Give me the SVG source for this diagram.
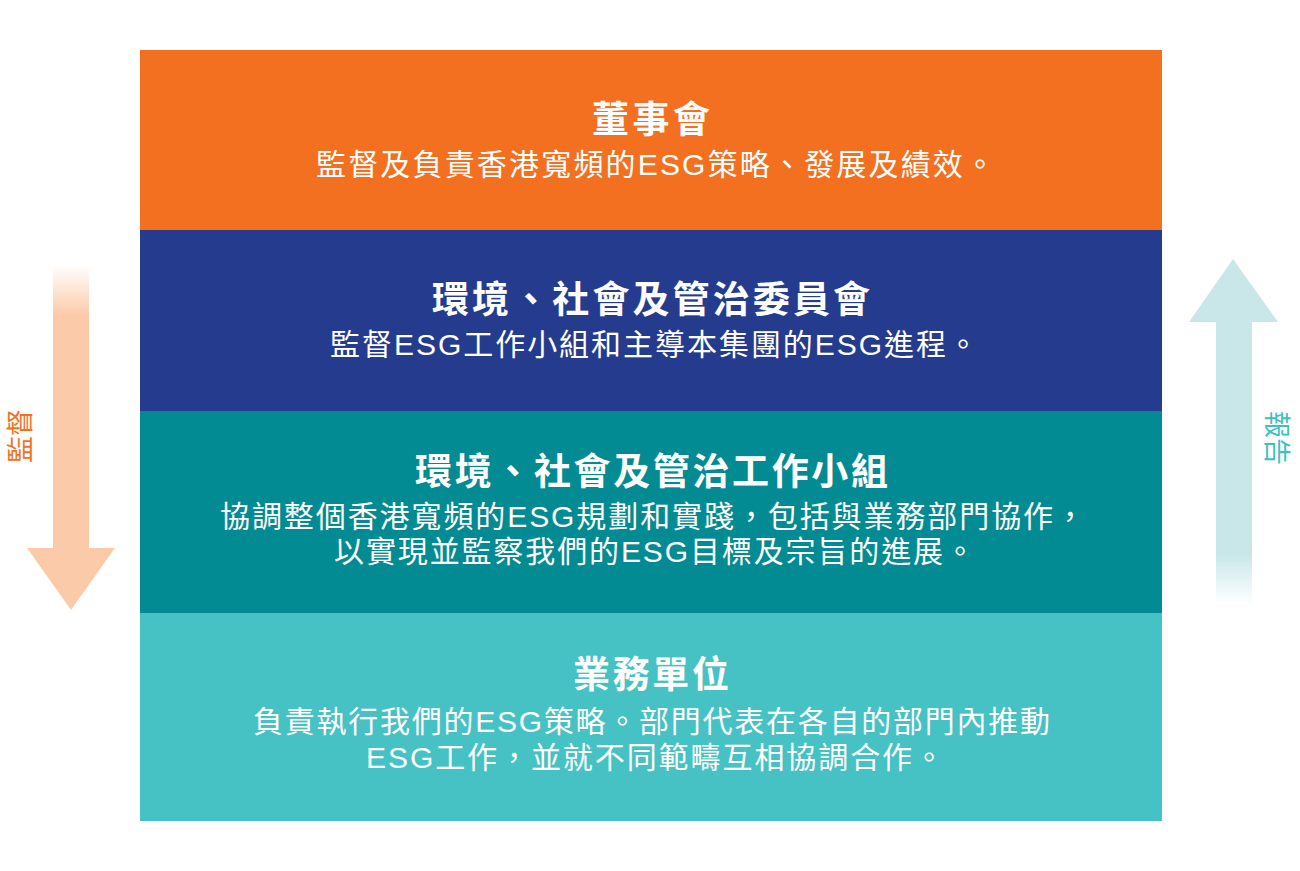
<svg xmlns="http://www.w3.org/2000/svg" width="1300" height="871" viewBox="0 0 1300 871">
  <defs>
    <linearGradient id="gDown" gradientUnits="userSpaceOnUse" x1="0" y1="265" x2="0" y2="315">
      <stop offset="0" stop-color="#FBCBA9" stop-opacity="0"/>
      <stop offset="1" stop-color="#FBCBA9" stop-opacity="1"/>
    </linearGradient>
    <linearGradient id="gUp" gradientUnits="userSpaceOnUse" x1="0" y1="604" x2="0" y2="555">
      <stop offset="0" stop-color="#C9E7E9" stop-opacity="0"/>
      <stop offset="1" stop-color="#C9E7E9" stop-opacity="1"/>
    </linearGradient>
  </defs>
  <style>
    .t { font-family: "Liberation Sans", "Noto Sans CJK TC", sans-serif; fill: #ffffff; font-size: 37px; font-weight: bold; }
    .s { font-family: "Liberation Sans", "Noto Sans CJK TC", sans-serif; fill: #ffffff; font-size: 30px; }
    .lbl { font-family: "Noto Sans CJK TC", sans-serif; font-size: 27px; text-anchor: middle; dominant-baseline: central; }
  </style>
  <rect width="1300" height="871" fill="#ffffff"/>

  <g id="arrows">
    <polygon id="arrow-down" points="53,265 89,265 89,548 115,548 71,610 27,548 53,548" fill="url(#gDown)"/>
    <polygon id="arrow-up" points="1233,259 1278,322 1252,322 1252,604 1216,604 1216,322 1189,322" fill="url(#gUp)"/>
  </g>

  <g id="label-oversee">
    <text class="lbl" fill="#F37021" transform="translate(18,436) rotate(-90)">監督</text>
  </g>
  <g id="label-report">
    <text class="lbl" fill="#3FBFC1" transform="translate(1278,438) rotate(90)">報告</text>
  </g>

  <g id="board">
    <rect x="140" y="50" width="1022" height="180" fill="#F37021"/>
    <text class="t" x="592" y="133" textLength="118" lengthAdjust="spacing">董事會</text>
    <text class="s" x="316" y="175" textLength="679" lengthAdjust="spacing">監督及負責香港寬頻的ESG策略、發展及績效。</text>
  </g>

  <g id="committee">
    <rect x="140" y="230" width="1022" height="181" fill="#253C8E"/>
    <text class="t" x="432" y="313" textLength="438" lengthAdjust="spacing">環境、社會及管治委員會</text>
    <text class="s" x="330" y="355" textLength="648" lengthAdjust="spacing">監督ESG工作小組和主導本集團的ESG進程。</text>
  </g>

  <g id="working-group">
    <rect x="140" y="411" width="1022" height="202" fill="#038B93"/>
    <text class="t" x="415" y="485" textLength="473" lengthAdjust="spacing">環境、社會及管治工作小組</text>
    <text class="s" x="220" y="527" textLength="865" lengthAdjust="spacing">協調整個香港寬頻的ESG規劃和實踐，包括與業務部門協作，</text>
    <text class="s" x="334" y="562" textLength="641" lengthAdjust="spacing">以實現並監察我們的ESG目標及宗旨的進展。</text>
  </g>

  <g id="business-units">
    <rect x="140" y="613" width="1022" height="208" fill="#46C2C4"/>
    <text class="t" x="573" y="688" textLength="156" lengthAdjust="spacing">業務單位</text>
    <text class="s" x="253" y="732" textLength="797" lengthAdjust="spacing">負責執行我們的ESG策略。部門代表在各自的部門內推動</text>
    <text class="s" x="366" y="768" textLength="578" lengthAdjust="spacing">ESG工作，並就不同範疇互相協調合作。</text>
  </g>
</svg>
